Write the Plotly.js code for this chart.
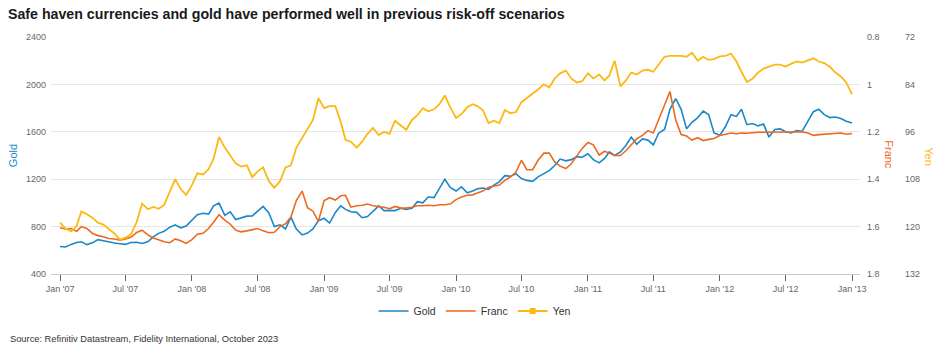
<!DOCTYPE html>
<html>
<head>
<meta charset="utf-8">
<script src="https://cdn.plot.ly/plotly-3.0.1.min.js"></script>
<style>
  html, body { margin: 0; padding: 0; background: #ffffff; }
  #chart { width: 940px; height: 354px; }
</style>
</head>
<body>
<div id="chart"></div>
<script>
// ---- Data (semi-monthly readings) ----
const dates = [
  "2007-01-01","2007-01-16","2007-02-01","2007-02-16","2007-03-01","2007-03-16","2007-04-01","2007-04-16","2007-05-01","2007-05-16","2007-06-01","2007-06-16",
  "2007-07-01","2007-07-16","2007-08-01","2007-08-16","2007-09-01","2007-09-16","2007-10-01","2007-10-16","2007-11-01","2007-11-16","2007-12-01","2007-12-16",
  "2008-01-01","2008-01-16","2008-02-01","2008-02-16","2008-03-01","2008-03-16","2008-04-01","2008-04-16","2008-05-01","2008-05-16","2008-06-01","2008-06-16",
  "2008-07-01","2008-07-16","2008-08-01","2008-08-16","2008-09-01","2008-09-16","2008-10-01","2008-10-16","2008-11-01","2008-11-16","2008-12-01","2008-12-16",
  "2009-01-01","2009-01-16","2009-02-01","2009-02-16","2009-03-01","2009-03-16","2009-04-01","2009-04-16","2009-05-01","2009-05-16","2009-06-01","2009-06-16",
  "2009-07-01","2009-07-16","2009-08-01","2009-08-16","2009-09-01","2009-09-16","2009-10-01","2009-10-16","2009-11-01","2009-11-16","2009-12-01","2009-12-16",
  "2010-01-01","2010-01-16","2010-02-01","2010-02-16","2010-03-01","2010-03-16","2010-04-01","2010-04-16","2010-05-01","2010-05-16","2010-06-01","2010-06-16",
  "2010-07-01","2010-07-16","2010-08-01","2010-08-16","2010-09-01","2010-09-16","2010-10-01","2010-10-16","2010-11-01","2010-11-16","2010-12-01","2010-12-16",
  "2011-01-01","2011-01-16","2011-02-01","2011-02-16","2011-03-01","2011-03-16","2011-04-01","2011-04-16","2011-05-01","2011-05-16","2011-06-01","2011-06-16",
  "2011-07-01","2011-07-16","2011-08-01","2011-08-16","2011-09-01","2011-09-16","2011-10-01","2011-10-16","2011-11-01","2011-11-16","2011-12-01","2011-12-16",
  "2012-01-01","2012-01-16","2012-02-01","2012-02-16","2012-03-01","2012-03-16","2012-04-01","2012-04-16","2012-05-01","2012-05-16","2012-06-01","2012-06-16",
  "2012-07-01","2012-07-16","2012-08-01","2012-08-16","2012-09-01","2012-09-16","2012-10-01","2012-10-16","2012-11-01","2012-11-16","2012-12-01","2012-12-16",
  "2013-01-01"
];

// Gold, USD per ounce (left axis)
const gold = [
  632,628,650,666,672,648,663,690,680,668,661,655, 650,666,668,658,672,714,743,760,795,815,790,805,
  850,900,912,905,975,998,895,925,860,875,888,890, 930,970,915,800,815,780,880,780,730,745,780,850,
  870,830,920,975,945,925,920,875,885,925,975,935, 935,935,955,945,955,1010,1000,1050,1045,1120,1200,1130,
  1100,1135,1085,1100,1120,1125,1115,1150,1180,1230,1225,1245, 1205,1190,1182,1220,1250,1272,1315,1370,1355,1365,1390,1385,
  1415,1365,1338,1375,1430,1400,1430,1485,1555,1495,1540,1530, 1490,1590,1620,1790,1880,1790,1625,1680,1720,1775,1745,1590,
  1570,1640,1745,1730,1790,1660,1670,1650,1665,1555,1620,1625, 1600,1590,1610,1605,1690,1770,1790,1745,1720,1725,1712,1690,
  1675
];

// Franc (first right axis, inverted)
const franc = [
  1.605,1.610,1.608,1.620,1.600,1.608,1.629,1.638,1.643,1.650,1.652,1.657, 1.652,1.645,1.625,1.615,1.635,1.648,1.655,1.664,1.668,1.652,1.660,1.671,
  1.655,1.632,1.628,1.608,1.582,1.550,1.573,1.590,1.615,1.622,1.618,1.612, 1.608,1.618,1.626,1.624,1.600,1.588,1.560,1.490,1.450,1.520,1.535,1.578,
  1.490,1.478,1.488,1.470,1.468,1.518,1.512,1.510,1.505,1.512,1.515,1.518, 1.525,1.515,1.522,1.522,1.518,1.512,1.512,1.510,1.512,1.508,1.508,1.505,
  1.486,1.475,1.468,1.466,1.458,1.450,1.434,1.430,1.425,1.405,1.390,1.370, 1.320,1.360,1.360,1.320,1.290,1.290,1.327,1.345,1.355,1.335,1.300,1.270,
  1.245,1.255,1.298,1.282,1.290,1.300,1.300,1.280,1.255,1.230,1.215,1.195, 1.205,1.150,1.090,1.030,1.150,1.212,1.218,1.235,1.225,1.237,1.232,1.228,
  1.216,1.212,1.205,1.208,1.205,1.206,1.203,1.202,1.202,1.201,1.201,1.201, 1.201,1.201,1.201,1.201,1.205,1.215,1.212,1.210,1.206,1.205,1.205,1.210,
  1.207
];

// Yen (second right axis, inverted)
const yen = [
  119.0,120.5,121.2,119.8,116.2,116.8,117.8,119.0,119.5,120.5,121.8,123.3, 122.8,122.0,118.9,114.2,115.6,115.0,115.5,114.5,111.0,108.0,110.5,112.0,
  109.5,106.5,106.8,105.5,102.8,97.3,100.0,102.0,104.0,104.8,104.5,107.5, 106.0,105.0,108.5,110.2,108.5,105.0,104.5,100.0,97.5,95.5,93.0,87.5,
  90.0,89.5,89.5,93.5,98.0,98.5,100.0,98.5,96.5,95.0,96.8,96.0, 96.5,93.2,94.5,95.5,93.0,91.8,90.0,90.8,90.3,89.0,86.8,89.8,
  92.5,91.5,89.8,89.0,89.5,90.5,93.8,93.2,93.8,90.5,91.3,91.0, 88.5,87.5,86.5,85.3,84.0,84.8,82.5,81.2,80.5,82.5,83.5,83.2,
  81.2,82.5,81.5,83.0,81.8,78.0,84.5,83.0,81.0,81.5,80.5,80.3, 80.8,79.0,77.0,76.8,76.8,76.8,77.0,76.0,78.0,77.0,77.8,77.6,
  76.9,76.8,76.2,78.2,80.8,83.4,82.5,81.0,80.0,79.5,79.0,79.0, 79.5,78.8,78.2,78.5,78.0,77.4,78.2,78.6,79.6,81.0,82.0,83.5,
  86.5
];

const seriesNames = ["Gold", "Franc", "Yen"];
const titleText = "Safe haven currencies and gold have performed well in previous risk-off scenarios";
const sourceText = "Source: Refinitiv Datastream, Fidelity International, October 2023";

// ---- Styling ----
const C_GOLD = "#1A87C9", C_FRANC = "#EC6A1F", C_YEN = "#FDB913";
const FONT = "Liberation Sans, Arial, Helvetica, sans-serif";
const TICKC = "#666666";

// page geometry (px)
const W = 940, H = 354;
const mL = 51, mR = 20, mT = 36.5, mB = 80;
const plotW = W - mL - mR;           // paper width
const plotH = H - mT - mB;
const xRight = 860;                  // right edge of the x axis
const xDomEnd = (xRight - mL) / plotW;
const px2paperX = px => (px - mL) / plotW;
const py2paperY = py => (H - mB - py) / plotH;

const traces = [
  { x: dates, y: gold, name: seriesNames[0], type: "scatter", mode: "lines",
    line: { color: C_GOLD, width: 1.6 }, yaxis: "y", hoverinfo: "skip" },
  { x: dates, y: franc, name: seriesNames[1], type: "scatter", mode: "lines",
    line: { color: C_FRANC, width: 1.6 }, yaxis: "y2", hoverinfo: "skip" },
  { x: dates, y: yen, name: seriesNames[2], type: "scatter", mode: "lines+markers",
    line: { color: C_YEN, width: 1.8 },
    marker: { symbol: "square", size: 6, color: C_YEN },
    selectedpoints: [], unselected: { marker: { opacity: 0 } },
    yaxis: "y3", hoverinfo: "skip" }
];

const tickFont = { family: FONT, size: 9, color: TICKC };

const layout = {
  width: W, height: H,
  margin: { l: mL, r: mR, t: mT, b: mB, pad: 0 },
  paper_bgcolor: "#ffffff", plot_bgcolor: "#ffffff",
  showlegend: true,
  hovermode: false,
  font: { family: FONT, size: 10, color: "#333333" },
  title: {
    text: titleText,
    font: { family: FONT, size: 14.2, weight: "bold", color: "#1a1a1a" },
    xref: "container", x: 8 / W, xanchor: "left",
    yref: "container", y: 1 - 14 / H, yanchor: "middle"
  },
  xaxis: {
    type: "date",
    domain: [0, xDomEnd],
    range: ["2006-12-07", "2013-01-23"],
    tick0: "2007-01-01", dtick: "M6",
    tickformat: "%b '%y",
    ticks: "outside", ticklen: 6, tickcolor: TICKC, tickwidth: 1,
    showline: true, linecolor: "#c8c8c8", linewidth: 1,
    showgrid: false, zeroline: false,
    tickfont: tickFont
  },
  yaxis: {
    range: [400, 2400], tick0: 400, dtick: 400,
    showgrid: true, gridcolor: "#e6e6e6", gridwidth: 1,
    zeroline: false, showline: false, ticks: "",
    tickfont: tickFont,
    ticklabelstandoff: 4,
    title: { text: seriesNames[0], font: { family: FONT, size: 11, color: C_GOLD }, standoff: 6 }
  },
  yaxis2: {
    overlaying: "y", side: "right", anchor: "x",
    range: [1.8, 0.8], tick0: 0.8, dtick: 0.2,
    showgrid: false, zeroline: false, showline: false, ticks: "",
    tickfont: tickFont,
    ticklabelstandoff: 6
  },
  yaxis3: {
    overlaying: "y", side: "right", anchor: "free", position: px2paperX(900),
    range: [132, 72], tick0: 72, dtick: 12,
    showgrid: false, zeroline: false, showline: false, ticks: "",
    tickfont: tickFont,
    ticklabelstandoff: 4
  },
  legend: {
    orientation: "h",
    xref: "container", x: 475 / W, xanchor: "center",
    yref: "container", y: 1 - 311 / H, yanchor: "middle",
    font: { family: FONT, size: 10.5, color: "#333333" },
    bgcolor: "rgba(0,0,0,0)"
  },
  annotations: [
    { text: seriesNames[1], xref: "paper", yref: "paper",
      x: px2paperX(889), y: py2paperY(154), textangle: 90,
      showarrow: false, xanchor: "center", yanchor: "middle",
      font: { family: FONT, size: 11, color: C_FRANC } },
    { text: seriesNames[2], xref: "paper", yref: "paper",
      x: px2paperX(929), y: py2paperY(156), textangle: 90,
      showarrow: false, xanchor: "center", yanchor: "middle",
      font: { family: FONT, size: 11, color: C_YEN } },
    { text: sourceText, xref: "paper", yref: "paper",
      x: px2paperX(8), y: py2paperY(339), xanchor: "left", yanchor: "middle",
      showarrow: false,
      font: { family: FONT, size: 9.3, color: "#333333" } }
  ]
};

Plotly.newPlot("chart", traces, layout, { displayModeBar: false, staticPlot: true });
</script>
</body>
</html>
